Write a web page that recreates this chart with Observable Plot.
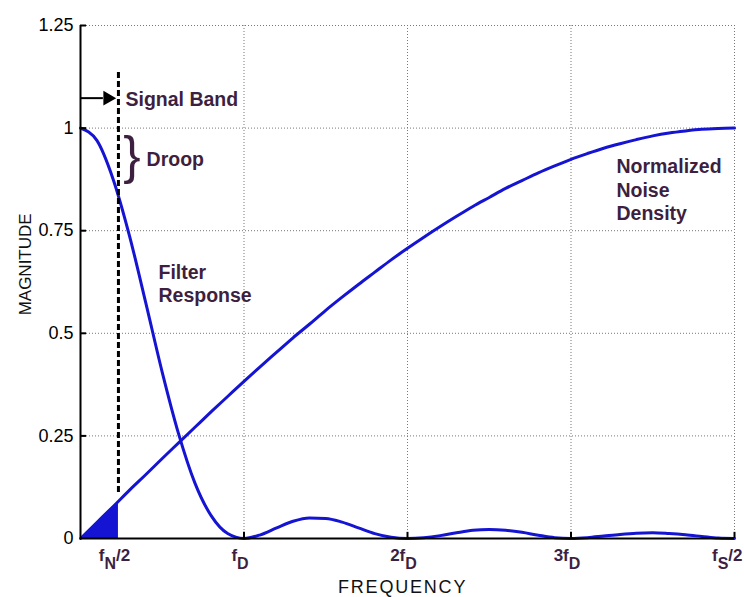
<!DOCTYPE html>
<html>
<head>
<meta charset="utf-8">
<script src="https://cdn.jsdelivr.net/npm/d3@7"></script>
<script src="https://cdn.jsdelivr.net/npm/@observablehq/plot@0.6"></script>
<style>
  body { margin: 0; background: #fff; }
  #chart svg { display: block; }
</style>
</head>
<body>
<div id="chart"></div>
<script>
// Frequency axis in units of f_D (0 .. f_S/2 = 4 f_D)
const freq = [0,0.1,0.2,0.3,0.4,0.5,0.6,0.7,0.8,0.9,1.0,1.1,1.2,1.3,1.4,1.5,1.6,1.7,1.8,1.9,2.0,
              2.1,2.2,2.3,2.4,2.5,2.6,2.7,2.8,2.9,3.0,3.1,3.2,3.3,3.4,3.5,3.6,3.7,3.8,3.9,4.0];
// Filter response
const filterResponse = [1.0,0.97,0.875,0.737,0.573,0.405,0.255,0.135,0.055,0.012,0.0,
                        0.009,0.026,0.042,0.050,0.049,0.040,0.026,0.012,0.003,0.0,
                        0.002,0.007,0.014,0.020,0.022,0.020,0.015,0.008,0.002,0.0,
                        0.002,0.006,0.010,0.013,0.014,0.012,0.009,0.005,0.001,0.0];
// Normalized noise density
const noiseDensity = [0.0,0.039,0.078,0.118,0.156,0.195,0.233,0.271,0.309,0.346,0.383,
                      0.419,0.454,0.489,0.522,0.556,0.588,0.619,0.649,0.679,0.707,
                      0.734,0.760,0.785,0.809,0.831,0.853,0.872,0.891,0.908,0.924,
                      0.938,0.951,0.962,0.972,0.981,0.988,0.993,0.997,0.999,1.0];
// Signal band edge (f_N/2) and in-band noise
const bandEdge = 0.232;
const bandX = [0, 0.232];
const bandNoise = [0, 0.091];

const yTicks = [0, 0.25, 0.5, 0.75, 1, 1.25];
const yTickLabels = ["0", "0.25", "0.5", "0.75", "1", "1.25"];
const yGrid = [0.25, 0.5, 0.75, 1, 1.25];
const xGrid = [1, 2, 3, 4];
const xTickPos = [0.232, 1, 2, 3, 4];
const xTickMain = ["f", "f", "2f", "3f", "f"];
const xTickSub = ["N", "D", "D", "D", "S"];
const xTickSuffix = ["/2", "", "", "", "/2"];

const curveData = freq.map((f, i) => ({f, filter: filterResponse[i], noise: noiseDensity[i]}));
const bandData = bandX.map((f, i) => ({f, n: bandNoise[i]}));
const xTickData = xTickPos.map((p, i) => ({p, main: xTickMain[i], sub: xTickSub[i], suffix: xTickSuffix[i],
  label: xTickMain[i] + xTickSub[i] + xTickSuffix[i]}));
const xTickInner = xTickData.slice(0, 4);
const xTickLast = xTickData.slice(4);

const FONT = "'Liberation Sans', Arial, Helvetica, sans-serif";
const PURPLE = "#3d1f3f";
const BLUE = "#1414d2";

function subscriptRender(data) {
  return function(index, scales, values, dimensions, context, next) {
    const g = next(index, scales, values, dimensions, context);
    d3.select(g).selectAll("text").each(function(i) {
      const d = data[i];
      const t = d3.select(this);
      t.text(null);
      t.append("tspan").text(d.main);
      t.append("tspan").attr("dy", 8).attr("font-size", 16).text(d.sub);
      if (d.suffix) t.append("tspan").attr("dy", -8).text(d.suffix);
    });
    return g;
  };
}
function spacedRender(spacing) {
  return function(index, scales, values, dimensions, context, next) {
    const g = next(index, scales, values, dimensions, context);
    d3.select(g).selectAll("text").style("letter-spacing", spacing);
    return g;
  };
}

const chart = Plot.plot({
  width: 744,
  height: 597,
  marginLeft: 80,
  marginRight: 10,
  marginTop: 25,
  marginBottom: 59,
  style: {fontFamily: FONT, background: "#fff", overflow: "visible"},
  x: {domain: [0, 4], axis: null},
  y: {domain: [0, 1.25], axis: null},
  marks: [
    Plot.gridX(xGrid, {stroke: "#777", strokeOpacity: 1, strokeWidth: 1, strokeDasharray: "1,2"}),
    Plot.gridY(yGrid, {stroke: "#777", strokeOpacity: 1, strokeWidth: 1, strokeDasharray: "1,2"}),
    // in-band noise
    Plot.areaY(bandData, {x: "f", y: "n", fill: BLUE, fillOpacity: 1}),
    // curves
    Plot.line(curveData, {x: "f", y: "noise", stroke: BLUE, strokeWidth: 3, curve: "monotone-x"}),
    Plot.line(curveData, {x: "f", y: "filter", stroke: BLUE, strokeWidth: 3, curve: "monotone-x"}),
    // signal band dashed marker
    Plot.ruleX([bandEdge], {y1: 0.112, y2: 1.139, stroke: "#000", strokeWidth: 3, strokeDasharray: "6,3"}),
    // arrow
    Plot.ruleY([1.073], {x1: 0, x2: 0.14, stroke: "#000", strokeWidth: 2}),
    Plot.dot([1.073], {x: () => 0.166, y: d => d, symbol: "triangle", rotate: 90, r: 5.5, fill: "#000", stroke: null}),
    // axes lines
    Plot.ruleX([0], {stroke: "#000", strokeWidth: 2}),
    Plot.ruleY([0], {stroke: "#000", strokeWidth: 2}),
    // inward ticks
    Plot.ruleY(yGrid, {x1: 0, x2: 0.037, stroke: "#000", strokeWidth: 2}),
    Plot.ruleX(xGrid, {y1: 0, y2: 0.015, stroke: "#000", strokeWidth: 2}),
    // y tick labels
    Plot.axisY(yTicks, {tickSize: 0, tickPadding: 7, fontSize: 18, fill: "#000", label: null,
      tickFormat: d => yTickLabels[yTicks.indexOf(d)]}),
    // x tick labels with subscripts
    Plot.text(xTickInner, {x: "p", y: () => 0, text: "label", dy: 22, dx: -4, lineAnchor: "bottom",
      fontSize: 17, fontWeight: "bold", fill: PURPLE, render: subscriptRender(xTickInner)}),
    Plot.text(xTickLast, {x: "p", y: () => 0, text: "label", dy: 22, dx: 8, lineAnchor: "bottom", textAnchor: "end",
      fontSize: 17, fontWeight: "bold", fill: PURPLE, render: subscriptRender(xTickLast)}),
    // axis titles
    Plot.text(["FREQUENCY"], {x: () => 1.97, frameAnchor: "bottom", text: d => d, dy: 54, lineAnchor: "bottom",
      textAnchor: "middle", fontSize: 18, fill: "#111", render: spacedRender("1.8px")}),
    Plot.text(["MAGNITUDE"], {y: () => 0.668, frameAnchor: "left", text: d => d, dx: -55, rotate: -90,
      textAnchor: "middle", fontSize: 17, fill: "#111"}),
    // annotations
    Plot.text(["Signal Band"], {x: () => 0.275, y: () => 1.070, text: d => d, textAnchor: "start",
      fontSize: 19.5, fontWeight: "bold", fill: PURPLE}),
    Plot.text(["}"], {x: () => 0.315, y: () => 0.932, text: d => d, textAnchor: "middle",
      fontSize: 52, fill: PURPLE}),
    Plot.text(["Droop"], {x: () => 0.404, y: () => 0.924, text: d => d, textAnchor: "start",
      fontSize: 19.5, fontWeight: "bold", fill: PURPLE}),
    Plot.text(["Filter\nResponse"], {x: () => 0.477, y: () => 0.622, text: d => d, textAnchor: "start",
      lineHeight: 1.15, fontSize: 19.5, fontWeight: "bold", fill: PURPLE}),
    Plot.text(["Normalized\nNoise\nDensity"], {x: () => 3.278, y: () => 0.851, text: d => d, textAnchor: "start",
      lineHeight: 1.2, fontSize: 19.5, fontWeight: "bold", fill: PURPLE})
  ]
});

document.getElementById("chart").appendChild(chart);
</script>
</body>
</html>
